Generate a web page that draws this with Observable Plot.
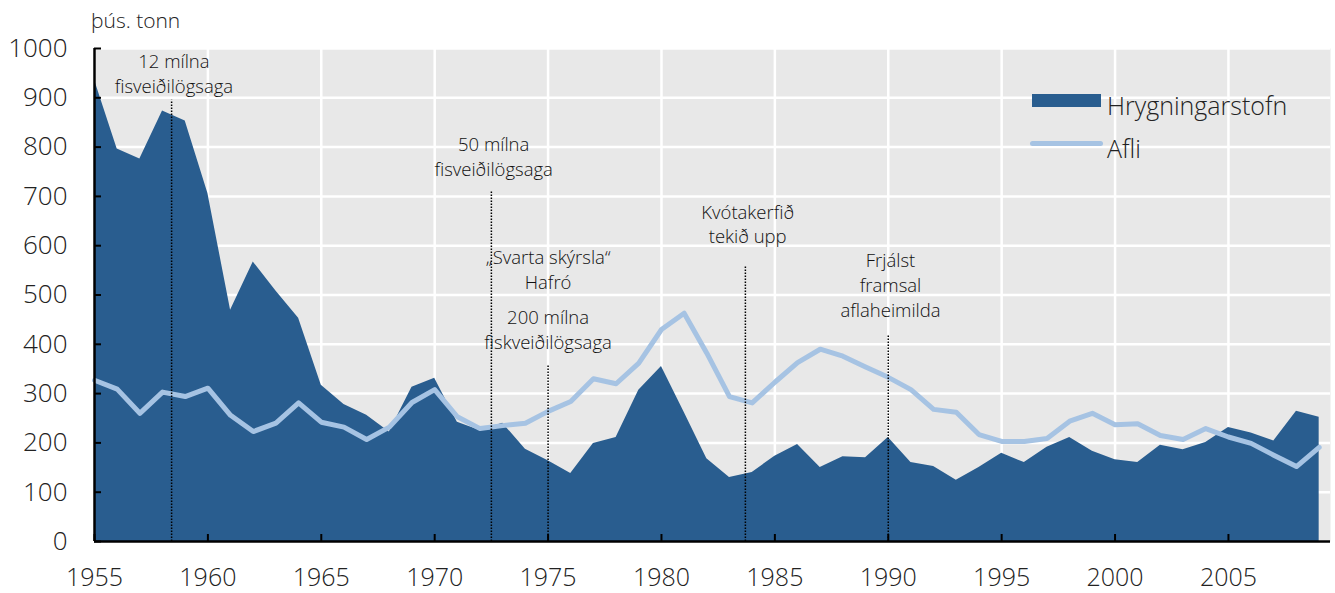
<!DOCTYPE html>
<html><head><meta charset="utf-8">
<script src="https://cdn.jsdelivr.net/npm/d3@7"></script>
<script src="https://cdn.jsdelivr.net/npm/@observablehq/plot@0.6"></script>
<style>
body{margin:0;background:#fff;font-family:"Open Sans",sans-serif;font-weight:300;color:#222}
#wrap{position:relative;width:1335px;height:593px;overflow:hidden}
#unit{position:absolute;left:91px;top:6px;height:28px;line-height:28px;font-size:21px;white-space:nowrap}
#chart{position:absolute;left:0;top:0}
#legend{position:absolute;left:0;top:0;width:1335px;height:593px;pointer-events:none}
.sw{position:absolute}
.lt{position:absolute;font-size:25px;line-height:30px;white-space:nowrap}
</style></head><body>
<div id="wrap">
  <div id="chart"></div>
  <div id="unit">þús. tonn</div>
  <div id="legend">
    <div class="sw" style="left:1032px;top:94px;width:69px;height:13px;background:#295d8f"></div>
    <div class="lt" style="left:1107px;top:90px">Hrygningarstofn</div>
    <div class="sw" style="left:1030px;top:141px;width:73px;height:5px;border-radius:3px;background:#a6c3e3"></div>
    <div class="lt" style="left:1107px;top:133px">Afli</div>
  </div>
</div>
<script>
const years = d3.range(1955, 2010);
const hrygningarstofn = [936, 796, 776, 873, 853, 706, 469, 567, 508, 453,
  317, 278, 256, 222, 313, 331, 242, 225, 240, 187,
  164, 138, 199, 211, 307, 355, 262, 168, 130, 140,
  173, 197, 150, 172, 170, 211, 160, 152, 124, 150,
  179, 160, 191, 211, 183, 166, 160, 195, 186, 201,
  231, 220, 204, 264, 252];
const afli = [327, 309, 260, 303, 294, 311, 256, 223, 240, 281,
  242, 232, 207, 232, 282, 308, 253, 229, 235, 240,
  264, 284, 330, 320, 362, 430, 463, 382, 294, 281,
  323, 363, 390, 376, 354, 333, 308, 268, 262, 217,
  203, 203, 209, 244, 260, 237, 239, 215, 207, 229,
  212, 199, 175, 152, 191];

const eventYears = [1958.4, 1972.5, 1975, 1983.7, 1990];
const eventTops = [895, 709, 357, 560, 420];

const labelYears = [1958.5, 1972.6, 1975, 1975, 1983.8, 1990.1];
const labelCenters = [952, 783, 553, 432, 646, 523];
const labelTexts = [
  "12 mílna\nfisveiðilögsaga",
  "50 mílna\nfisveiðilögsaga",
  "„Svarta skýrsla“\nHafró",
  "200 mílna\nfiskveiðilögsaga",
  "Kvótakerfið\ntekið upp",
  "Frjálst\nframsal\naflaheimilda"
];

const xTicks = d3.range(1955, 2006, 5);
const yTicks = d3.range(0, 1001, 100);

const data = years.map((year, i) => ({year, stock: hrygningarstofn[i], catch: afli[i]}));
const events = eventYears.map((year, i) => ({year, top: eventTops[i]}));
const labels = labelYears.map((year, i) => ({year, center: labelCenters[i], text: labelTexts[i]}));

const chart = Plot.plot({
  width: 1335,
  height: 593,
  marginLeft: 94,
  marginRight: 5,
  marginTop: 48,
  marginBottom: 52,
  x: {domain: [1955, 2009.5], label: null},
  y: {domain: [0, 1000], label: null},
  style: {fontFamily: "'Open Sans', sans-serif", fontWeight: 300, color: "#222", background: "transparent"},
  marks: [
    Plot.frame({fill: "#e8e8e8", stroke: "none"}),
    Plot.gridX({ticks: xTicks, stroke: "white", strokeOpacity: 1, strokeWidth: 2.5}),
    Plot.gridY({ticks: yTicks, stroke: "white", strokeOpacity: 1, strokeWidth: 2.5}),
    Plot.areaY(data, {x: "year", y: "stock", fill: "#295d8f"}),
    Plot.lineY(data, {x: "year", y: "catch", stroke: "#a6c3e3", strokeWidth: 5, strokeLinejoin: "round"}),
    Plot.ruleX(events, {x: "year", y1: 0, y2: "top", stroke: "black", strokeWidth: 1.5, strokeDasharray: "1.5,1.5"}),
    Plot.text(labels, {x: "year", y: "center", text: "text", lineAnchor: "middle", fontSize: 18.5, lineHeight: 1.35, fill: "#111"}),
    Plot.ruleY([0], {stroke: "black", strokeWidth: 2.5}),
    Plot.ruleX([1955], {stroke: "black", strokeWidth: 2.5}),
    Plot.axisX({ticks: xTicks, tickFormat: "d", label: null, tickSize: -7, tickPadding: 34, fontSize: 25, stroke: "black", strokeWidth: 2, fill: "#222"}),
    Plot.axisY({ticks: yTicks, tickFormat: "d", label: null, tickSize: -7, tickPadding: 34, fontSize: 26, stroke: "black", strokeWidth: 2, fill: "#222"})
  ]
});
document.getElementById("chart").appendChild(chart);
</script>
</body></html>
